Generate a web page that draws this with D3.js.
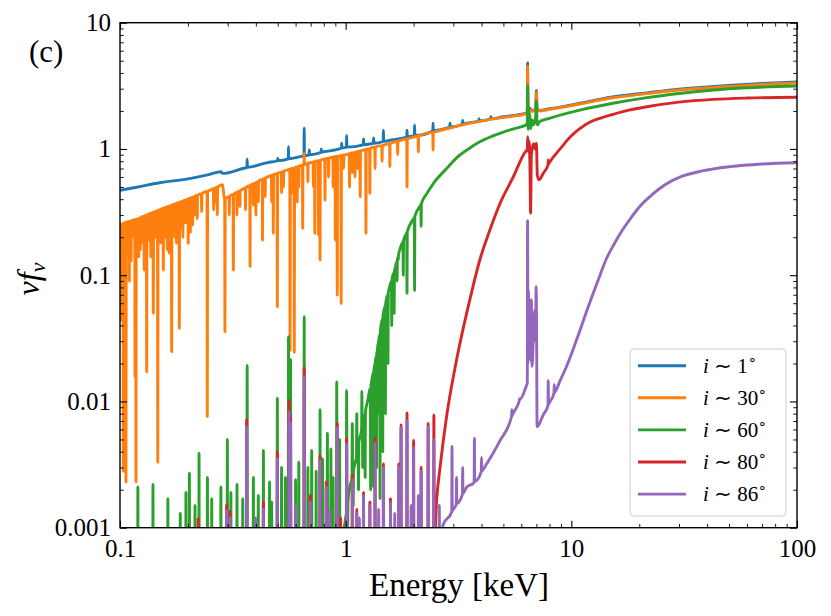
<!DOCTYPE html>
<html><head><meta charset="utf-8">
<script src="https://cdn.jsdelivr.net/npm/d3@7"></script>
<style>
html,body{margin:0;padding:0;background:#fff;}
svg text{font-family:"Liberation Serif","Times New Roman",serif;fill:#000;}
</style></head>
<body><svg id="chart" width="831" height="616"></svg>
<script>
// ---------------- data ----------------
const xTickValues = [0.1, 1, 10, 100];
const xTickLabels = ["0.1", "1", "10", "100"];
const yTickValues = [0.001, 0.01, 0.1, 1, 10];
const yTickLabels = ["0.001", "0.01", "0.1", "1", "10"];
const seriesNames = ["1", "30", "60", "80", "86"];
const seriesColors = ["#1f77b4", "#ff7f0e", "#2ca02c", "#d62728", "#9467bd"];

// i ~ 1 deg : continuum [E keV, nuFnu]
const blueCont = [[0.1,0.47],[0.12,0.5],[0.15,0.54],[0.2,0.58],[0.25,0.63],[0.28,0.66],[0.285,0.64],[0.35,0.7],[0.45,0.78],[0.63,0.87],[0.8,0.95],[1.0,1.03],[1.3,1.1],[1.6,1.18],[2.0,1.27],[2.5,1.4],[3.44,1.6],[5.0,1.8],[6.3,1.92],[6.38,1.95],[6.4,4.8],[6.42,2.3],[6.46,2.0],[6.55,2.1],[6.7,2.0],[6.95,2.1],[7.0,2.9],[7.05,2.1],[7.2,2.02],[8,2.08],[10.9,2.3],[15,2.57],[21.6,2.78],[30,2.97],[50,3.18],[70,3.3],[100,3.4]];
const blueLines = [[0.366,0.83],[0.5,0.84],[0.558,1.04],[0.655,1.46],[0.69,0.98],[0.78,1.0],[0.96,1.11],[1.01,1.28],[1.2,1.2],[1.33,1.22],[1.47,1.41],[1.87,1.41],[2.02,1.55],[2.44,1.6],[2.9,1.6],[3.3,1.68],[3.9,1.74],[4.4,1.8]];

// i ~ 30 deg
const orangeCont = [[0.1,0.25],[0.105,0.26],[0.12,0.28],[0.15,0.33],[0.2,0.4],[0.25,0.47],[0.285,0.52],[0.29,0.4],[0.35,0.48],[0.45,0.6],[0.55,0.68],[0.7,0.78],[0.85,0.85],[1.0,0.9],[1.2,0.98],[1.5,1.08],[2.0,1.24],[2.5,1.37],[3.44,1.58],[5.0,1.78],[6.3,1.9],[6.38,1.93],[6.4,4.5],[6.42,2.2],[6.46,1.98],[6.55,2.05],[6.7,1.98],[6.95,2.05],[7.0,2.8],[7.05,2.05],[7.2,2.0],[8,2.06],[10.9,2.27],[15,2.53],[21.6,2.74],[30,2.93],[50,3.12],[70,3.24],[100,3.33]];
const orangeLines = [[0.1005,0.07],[0.101,0.044],[0.1025,0.12],[0.1035,0.0028],[0.1052,0.068],[0.1063,0.0023],[0.107,0.17],[0.108,0.15],[0.11,0.09],[0.112,0.13],[0.113,0.2],[0.1166,0.0157],[0.1177,0.0023],[0.119,0.2],[0.121,0.14],[0.123,0.16],[0.125,0.18],[0.128,0.11],[0.1313,0.0172],[0.134,0.19],[0.137,0.14],[0.1405,0.05],[0.144,0.2],[0.147,0.0033],[0.151,0.18],[0.1556,0.11],[0.158,0.2],[0.162,0.16],[0.165,0.15],[0.1694,0.0248],[0.172,0.23],[0.175,0.2],[0.178,0.18],[0.1832,0.038],[0.186,0.24],[0.19,0.2],[0.195,0.26],[0.2006,0.179],[0.205,0.22],[0.21,0.25],[0.215,0.3],[0.22,0.28],[0.23,0.32],[0.2437,0.0076],[0.25,0.36],[0.26,0.33],[0.265,0.38],[0.27,0.3],[0.2918,0.0357],[0.305,0.3],[0.318,0.11],[0.33,0.3],[0.34,0.35],[0.36,0.33],[0.377,0.117],[0.39,0.36],[0.4,0.3],[0.41,0.38],[0.428,0.19],[0.44,0.42],[0.45,0.4],[0.47,0.38],[0.478,0.215],[0.498,0.0562],[0.52,0.45],[0.53,0.5],[0.567,0.0255],[0.58,0.45],[0.592,0.0245],[0.61,0.38],[0.62,0.5],[0.645,0.235],[0.655,0.93],[0.68,0.55],[0.72,0.5],[0.73,0.215],[0.758,0.208],[0.77,0.132],[0.81,0.394],[0.84,0.6],[0.88,0.5],[0.9,0.19],[0.918,0.0697],[0.955,0.0598],[0.98,0.7],[1.04,0.5],[1.07,0.65],[1.1,0.6],[1.13,0.7],[1.16,0.419],[1.2,0.6],[1.23,0.215],[1.28,0.445],[1.35,0.7],[1.45,0.8],[1.57,0.724],[1.7,0.9],[1.87,0.5],[2.1,0.95],[2.44,0.98]];

// i ~ 60 deg
const greenCont = [[0.1,0.0001],[0.9,0.0002],[0.95,0.0006],[1.0,0.0012],[1.05,0.0022],[1.1,0.0032],[1.15,0.005],[1.2,0.007],[1.25,0.01],[1.3,0.014],[1.35,0.02],[1.4,0.03],[1.47,0.05],[1.55,0.075],[1.65,0.11],[1.74,0.16],[1.85,0.21],[2.0,0.28],[2.15,0.36],[2.29,0.445],[2.5,0.56],[2.8,0.7],[3.1,0.85],[3.5,1.0],[3.93,1.14],[4.5,1.27],[5.0,1.36],[5.6,1.45],[6.3,1.55],[6.38,1.6],[6.4,3.2],[6.42,2.2],[6.44,1.43],[6.47,2.1],[6.5,1.5],[6.55,1.9],[6.6,1.45],[6.7,1.7],[6.8,1.55],[6.95,1.8],[7.0,2.4],[7.05,1.6],[7.1,1.55],[7.2,1.64],[8,1.75],[10.9,2.03],[15.3,2.3],[21.6,2.55],[30,2.75],[42.6,2.93],[60,3.05],[100,3.15]];
const greenLines = [[0.12,0.0021],[0.14,0.0022],[0.163,0.0017],[0.185,0.0013],[0.196,0.0019],[0.203,0.0027],[0.215,0.0015],[0.224,0.0039],[0.244,0.0025],[0.255,0.0017],[0.28,0.0021],[0.299,0.005],[0.31,0.0019],[0.33,0.0022],[0.35,0.0017],[0.366,0.0193],[0.39,0.0025],[0.41,0.0018],[0.432,0.0041],[0.46,0.0023],[0.47,0.0016],[0.498,0.0106],[0.52,0.003],[0.541,0.0025],[0.558,0.0326],[0.57,0.0215],[0.6,0.0024],[0.62,0.0033],[0.655,0.0469],[0.68,0.003],[0.707,0.0041],[0.74,0.0028],[0.77,0.0086],[0.79,0.0035],[0.83,0.0056],[0.86,0.0042],[0.88,0.0025],[0.913,0.0143],[0.94,0.005],[1.01,0.0122],[1.02,0.0009],[1.07,0.0067],[1.08,0.0015],[1.12,0.008],[1.14,0.002],[1.18,0.012],[1.19,0.003],[1.22,0.0025],[1.25,0.0015],[1.29,0.002],[1.33,0.0021],[1.37,0.003],[1.38,0.008],[1.42,0.0017],[1.46,0.004],[1.5,0.008],[1.54,0.02],[1.6,0.04],[1.64,0.05],[1.69,0.09],[1.71,0.132],[1.8,0.1],[1.87,0.072],[2.02,0.076],[2.16,0.244],[2.29,0.37],[2.8,0.606]];

// i ~ 80 deg
const redCont = [[0.1,0.0001],[2.3,0.0002],[2.45,0.0006],[2.53,0.00166],[2.62,0.003],[2.8,0.0076],[3.1,0.0213],[3.55,0.064],[3.93,0.132],[4.4,0.24],[4.83,0.37],[5.53,0.6],[6.2,0.93],[6.38,1.0],[6.41,1.25],[6.45,0.95],[6.5,1.15],[6.55,0.8],[6.6,0.31],[6.65,0.9],[6.8,1.1],[6.9,1.0],[7.0,1.11],[7.07,0.62],[7.2,0.57],[7.5,0.64],[8,0.78],[9,1.02],[10,1.27],[10.9,1.45],[12,1.62],[13.4,1.75],[15.3,1.88],[18,2.03],[21.6,2.16],[30,2.35],[42.6,2.47],[60,2.53],[100,2.57]];
const redLines = [[0.222,0.00118],[0.297,0.00153],[0.307,0.00135],[0.364,0.0072],[0.432,0.0016],[0.498,0.004],[0.561,0.0102],[0.57,0.0078],[0.655,0.0184],[0.697,0.0018],[0.77,0.0037],[0.82,0.0023],[0.918,0.0067],[0.95,0.0012],[1.01,0.0051],[1.07,0.0026],[1.12,0.0014],[1.2,0.0019],[1.28,0.0016],[1.35,0.0051],[1.47,0.0032],[1.58,0.0017],[1.72,0.0032],[1.76,0.0065],[1.87,0.0081],[2.0,0.0049],[2.16,0.003],[2.32,0.0067],[2.46,0.0078],[7.9,0.82]];

// i ~ 86 deg
const purpleCont = [[0.1,0.0001],[2.5,0.0002],[2.65,0.0007],[2.7,0.00105],[3.0,0.0014],[3.44,0.0021],[3.68,0.00225],[4.21,0.0032],[4.83,0.0049],[5.53,0.0081],[6.3,0.0131],[6.38,0.014],[6.4,0.27],[6.42,0.02],[6.45,0.076],[6.5,0.025],[6.55,0.04],[6.6,0.0213],[6.65,0.064],[6.7,0.019],[6.8,0.035],[6.9,0.053],[6.95,0.03],[6.98,0.081],[7.02,0.03],[7.05,0.0063],[7.5,0.0078],[8,0.0098],[8.9,0.0145],[9.53,0.019],[10.2,0.026],[10.7,0.033],[11.7,0.052],[12.5,0.072],[13.4,0.1],[14.3,0.135],[15.3,0.17],[16.5,0.215],[18,0.27],[20.1,0.35],[23,0.44],[26,0.52],[30.4,0.6],[38,0.67],[50.4,0.724],[70,0.76],[100,0.778]];
const purpleLines = [[0.222,0.001],[0.297,0.00137],[0.307,0.0012],[0.364,0.0063],[0.4,0.0012],[0.432,0.0014],[0.498,0.0035],[0.561,0.0083],[0.57,0.0068],[0.6,0.0015],[0.655,0.0157],[0.697,0.0016],[0.77,0.0034],[0.82,0.0021],[0.85,0.0014],[0.918,0.0062],[1.01,0.0046],[1.07,0.0024],[1.12,0.0013],[1.15,0.0012],[1.2,0.0018],[1.28,0.0015],[1.35,0.0047],[1.4,0.0014],[1.47,0.003],[1.58,0.0016],[1.65,0.0013],[1.72,0.003],[1.76,0.0062],[1.87,0.007],[1.95,0.0015],[2.0,0.0043],[2.1,0.0018],[2.16,0.0028],[2.32,0.0063],[2.46,0.005],[2.6,0.0015],[2.96,0.0044],[3.1,0.0025],[3.3,0.003],[3.72,0.0051],[4.0,0.0036],[5.45,0.0086],[5.9,0.0105],[7.5,0.0157],[7.9,0.0146],[8.4,0.0136]];

const seriesCont = [blueCont, orangeCont, greenCont, redCont, purpleCont];
const seriesLines = [blueLines, orangeLines, greenLines, redLines, purpleLines];

// ---------------- layout ----------------
const svg = d3.select("#chart");
const L = 120, R = 797, T = 22.7, B = 527.7;
const x = d3.scaleLog().domain([0.1, 100]).range([L, R]);
const y = d3.scaleLog().domain([0.001, 10]).range([B, T]);

svg.append("defs").append("clipPath").attr("id", "clip")
  .append("rect").attr("x", L).attr("y", T).attr("width", R - L).attr("height", B - T);

function buildPoints(cont, lines) {
  const base = d3.scaleLog().domain(cont.map(d => d[0])).range(cont.map(d => Math.log10(d[1]))).clamp(true);
  const f = Math.pow(10, 0.0012);
  const pts = cont.map(d => [d[0], d[1]]);
  lines.forEach(([e, v]) => {
    pts.push([e / f, Math.pow(10, base(e / f))], [e, v], [e * f, Math.pow(10, base(e * f))]);
  });
  pts.sort((a, b) => a[0] - b[0]);
  return pts.filter((p, i) => i === 0 || p[0] > pts[i - 1][0]);
}

const line = d3.line().x(d => x(d[0])).y(d => y(d[1])).curve(d3.curveMonotoneX);
const plot = svg.append("g").attr("clip-path", "url(#clip)");
seriesCont.forEach((cont, i) => {
  plot.append("path")
    .datum(buildPoints(cont, seriesLines[i]))
    .attr("d", line)
    .attr("fill", "none")
    .attr("stroke", seriesColors[i])
    .attr("stroke-width", 2.9)
    .attr("stroke-linejoin", "round")
    .attr("stroke-linecap", "butt");
});

// ---------------- axes ----------------
const minorX = [], minorY = [];
[0.1, 1, 10].forEach(d => { for (let k = 2; k <= 9; k++) minorX.push(d * k); });
[0.001, 0.01, 0.1, 1].forEach(d => { for (let k = 2; k <= 9; k++) minorY.push(d * k); });

function styleAxis(g, fs) {
  g.select(".domain").remove();
  g.selectAll("line").attr("stroke", "#000");
  g.selectAll("text").style("font-family", '"Liberation Serif", serif').style("font-size", fs + "px").attr("fill", "#000");
}
// bottom
svg.append("g").attr("transform", `translate(0,${B})`)
  .call(d3.axisBottom(x).tickValues(xTickValues).tickFormat((d, i) => xTickLabels[i]).tickSizeInner(-7).tickSizeOuter(0).tickPadding(12))
  .call(g => styleAxis(g, 25)).selectAll("line").attr("stroke-width", 1.1);
svg.append("g").attr("transform", `translate(0,${B})`)
  .call(d3.axisBottom(x).tickValues(minorX).tickFormat("").tickSizeInner(-3.8).tickSizeOuter(0))
  .call(g => styleAxis(g, 25)).selectAll("line").attr("stroke-width", 0.9);
// top
svg.append("g").attr("transform", `translate(0,${T})`)
  .call(d3.axisTop(x).tickValues(xTickValues).tickFormat("").tickSizeInner(-7).tickSizeOuter(0))
  .call(g => styleAxis(g, 25)).selectAll("line").attr("stroke-width", 1.1);
svg.append("g").attr("transform", `translate(0,${T})`)
  .call(d3.axisTop(x).tickValues(minorX).tickFormat("").tickSizeInner(-3.8).tickSizeOuter(0))
  .call(g => styleAxis(g, 25)).selectAll("line").attr("stroke-width", 0.9);
// left
svg.append("g").attr("transform", `translate(${L},0)`)
  .call(d3.axisLeft(y).tickValues(yTickValues).tickFormat((d, i) => yTickLabels[i]).tickSizeInner(-7).tickSizeOuter(0).tickPadding(9))
  .call(g => styleAxis(g, 25)).selectAll("line").attr("stroke-width", 1.1);
svg.append("g").attr("transform", `translate(${L},0)`)
  .call(d3.axisLeft(y).tickValues(minorY).tickFormat("").tickSizeInner(-3.8).tickSizeOuter(0))
  .call(g => styleAxis(g, 25)).selectAll("line").attr("stroke-width", 0.9);
// right
svg.append("g").attr("transform", `translate(${R},0)`)
  .call(d3.axisRight(y).tickValues(yTickValues).tickFormat("").tickSizeInner(-7).tickSizeOuter(0))
  .call(g => styleAxis(g, 25)).selectAll("line").attr("stroke-width", 1.1);
svg.append("g").attr("transform", `translate(${R},0)`)
  .call(d3.axisRight(y).tickValues(minorY).tickFormat("").tickSizeInner(-3.8).tickSizeOuter(0))
  .call(g => styleAxis(g, 25)).selectAll("line").attr("stroke-width", 0.9);

// frame
svg.append("rect").attr("x", L).attr("y", T).attr("width", R - L).attr("height", B - T)
  .attr("fill", "none").attr("stroke", "#000").attr("stroke-width", 1.4);

// axis labels
svg.append("text").attr("x", (L + R) / 2 + 0.5).attr("y", 596).attr("text-anchor", "middle")
  .style("font-size", "33px").text("Energy [keV]");
const yl = svg.append("text").attr("transform", "translate(39,279) rotate(-90)")
  .attr("text-anchor", "middle").style("font-size", "32px");
yl.append("tspan").style("font-style", "italic").text("νf");
yl.append("tspan").style("font-style", "italic").style("font-size", "22px").attr("dy", 6).text("ν");

// panel label
svg.append("text").attr("x", 29).attr("y", 62).style("font-size", "31px").text("(c)");

// ---------------- legend ----------------
const lg = svg.append("g");
lg.append("rect").attr("x", 630).attr("y", 349).attr("width", 156).attr("height", 167).attr("rx", 4)
  .attr("fill", "#fff").attr("fill-opacity", 0.8).attr("stroke", "#cccccc").attr("stroke-width", 1);
seriesNames.forEach((n, i) => {
  const yy = 365.7 + i * 32.1;
  lg.append("line").attr("x1", 638).attr("x2", 686).attr("y1", yy).attr("y2", yy)
    .attr("stroke", seriesColors[i]).attr("stroke-width", 2.9);
  const t = lg.append("text").attr("x", 703).attr("y", yy + 7).style("font-size", "21px");
  t.append("tspan").style("font-style", "italic").text("i");
  t.append("tspan").text(" \u223C " + n);
  t.append("tspan").style("font-size", "14px").attr("dy", -9).text("\u2218");
});
</script></body></html>
